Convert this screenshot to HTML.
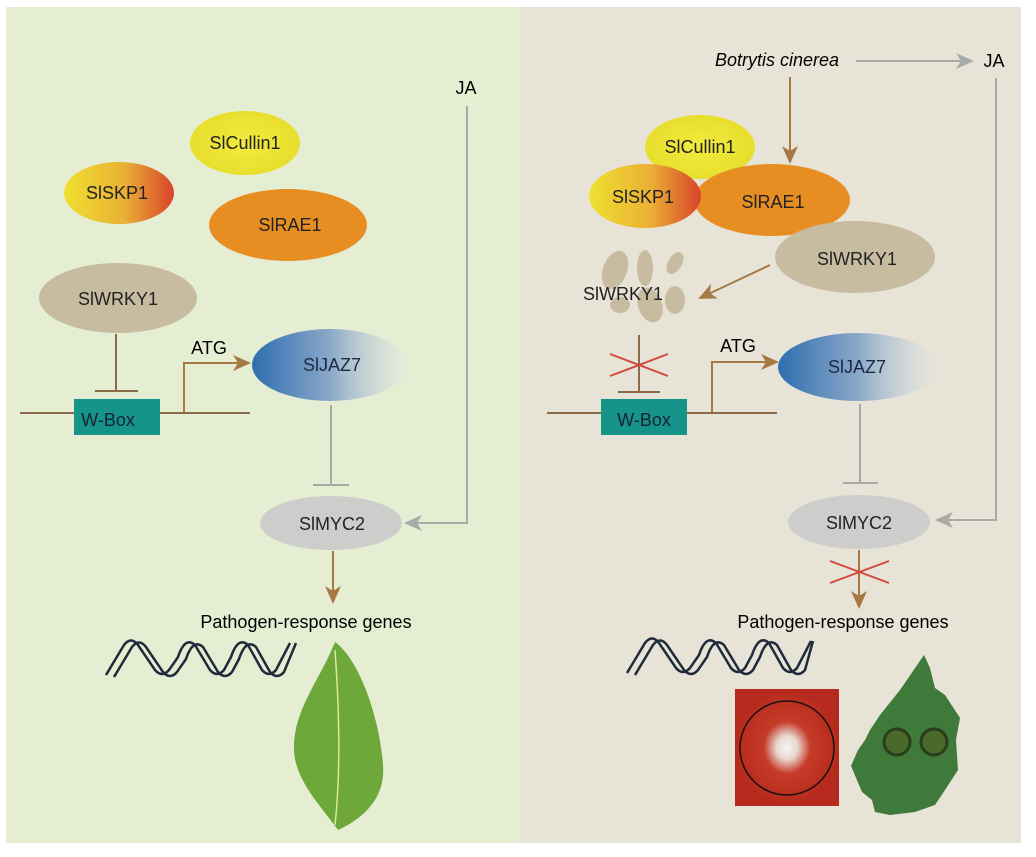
<!DOCTYPE html>
<html><head><meta charset="utf-8"><style>
html,body{margin:0;padding:0;background:#fff;}
svg{display:block;font-family:"Liberation Sans",Arial,sans-serif;}
</style></head><body>
<svg width="1036" height="857" viewBox="0 0 1036 857" xmlns="http://www.w3.org/2000/svg">
<defs>
<linearGradient id="skp" x1="0" x2="1"><stop offset="0" stop-color="#efe030"/><stop offset="0.55" stop-color="#eab035"/><stop offset="1" stop-color="#d8432a"/></linearGradient>
<linearGradient id="jaz" x1="0" x2="1"><stop offset="0" stop-color="#2e6eb0"/><stop offset="0.5" stop-color="#8aa8c8"/><stop offset="1" stop-color="#e4e8e2" stop-opacity="0.3"/></linearGradient>
<radialGradient id="cul"><stop offset="0" stop-color="#f2ec40"/><stop offset="1" stop-color="#e8de2c"/></radialGradient>
<radialGradient id="plate"><stop offset="0" stop-color="#f4f4f4"/><stop offset="0.2" stop-color="#e8d8d0"/><stop offset="0.45" stop-color="#c63a28"/><stop offset="1" stop-color="#b52a1c"/></radialGradient>
<marker id="ab" markerWidth="18" markerHeight="16" refX="16" refY="8" orient="auto" markerUnits="userSpaceOnUse"><path d="M0,0 L18,8 L0,16 L5,8z" fill="#a67843"/></marker>
<marker id="ag" markerWidth="18" markerHeight="16" refX="16" refY="8" orient="auto" markerUnits="userSpaceOnUse"><path d="M0,0 L18,8 L0,16 L5,8z" fill="#a8aaa8"/></marker>
</defs>
<rect x="6" y="7" width="514" height="836" fill="#e5eed3"/>
<rect x="520" y="7" width="501" height="836" fill="#e7e3d7"/>

<g font-size="18">
<!-- LEFT -->
<text x="466" y="94" text-anchor="middle">JA</text>
<polyline points="467,106 467,523 406,523" fill="none" stroke="#a8aaa8" stroke-width="2" marker-end="url(#ag)"/>
<ellipse cx="245" cy="143" rx="55" ry="32" fill="url(#cul)"/>
<text x="245" y="149" text-anchor="middle" fill="#222">SlCullin1</text>
<ellipse cx="119" cy="193" rx="55" ry="31" fill="url(#skp)"/>
<text x="117" y="199" text-anchor="middle" fill="#222">SlSKP1</text>
<ellipse cx="288" cy="225" rx="79" ry="36" fill="#e68e22"/>
<text x="290" y="231" text-anchor="middle" fill="#222">SlRAE1</text>
<ellipse cx="118" cy="298" rx="79" ry="35" fill="#c7bca0"/>
<text x="118" y="305" text-anchor="middle" fill="#222">SlWRKY1</text>
<line x1="116" y1="334" x2="116" y2="391" stroke="#8a6a48" stroke-width="2"/>
<line x1="95" y1="391" x2="138" y2="391" stroke="#8a6a48" stroke-width="2"/>
<line x1="20" y1="413" x2="250" y2="413" stroke="#8a6a48" stroke-width="2"/>
<rect x="74" y="399" width="86" height="36" fill="#17948a"/>
<text x="108" y="426" text-anchor="middle" fill="#123">W-Box</text>
<polyline points="184,413 184,363 249,363" fill="none" stroke="#a67843" stroke-width="2" marker-end="url(#ab)"/>
<text x="209" y="354" text-anchor="middle">ATG</text>
<ellipse cx="330" cy="365" rx="78" ry="36" fill="url(#jaz)"/>
<text x="332" y="371" text-anchor="middle" fill="#1a2a44">SlJAZ7</text>
<line x1="331" y1="405" x2="331" y2="485" stroke="#a8aaa8" stroke-width="2"/>
<line x1="313" y1="485" x2="349" y2="485" stroke="#a8aaa8" stroke-width="2"/>
<ellipse cx="331" cy="523" rx="71" ry="27" fill="#cdcecc"/>
<text x="332" y="530" text-anchor="middle" fill="#222">SlMYC2</text>
<line x1="333" y1="551" x2="333" y2="602" stroke="#a67843" stroke-width="2" marker-end="url(#ab)"/>
<text x="306" y="628" text-anchor="middle">Pathogen-response genes</text>
<g fill="none" stroke="#1f2a3a" stroke-width="2.5">
<path d="M106,675 L124,645 Q131,636 138,645 L155,670 Q162,678 169,670 L176,660 L178,657 Q185,636 195,645 L210,670 Q217,678 224,670 L231,657 Q238,636 248,645 L262,670 Q269,678 276,670 L290,643"/>
<path d="M114,677 L132,647 Q139,638 146,647 L163,672 Q170,680 177,672 L186,659 Q193,638 203,647 L218,672 Q225,680 232,672 L239,659 Q246,638 256,647 L270,672 Q277,680 284,672 L296,643"/>
</g>
<path d="M335,642 C360,660 380,720 383,765 C386,800 360,820 338,830 C320,805 295,780 294,750 C293,710 320,680 335,642z" fill="#6fa83a"/>
<path d="M335,650 C340,720 340,780 335,825" stroke="#d8eaa0" stroke-width="1.5" fill="none"/>

<!-- RIGHT -->
<text x="777" y="66" text-anchor="middle" font-style="italic">Botrytis cinerea</text>
<line x1="856" y1="61" x2="972" y2="61" stroke="#a8aaa8" stroke-width="2" marker-end="url(#ag)"/>
<text x="994" y="67" text-anchor="middle">JA</text>
<polyline points="996,78 996,520 937,520" fill="none" stroke="#a8aaa8" stroke-width="2" marker-end="url(#ag)"/>
<line x1="790" y1="77" x2="790" y2="162" stroke="#a67843" stroke-width="2" marker-end="url(#ab)"/>
<ellipse cx="700" cy="147" rx="55" ry="32" fill="url(#cul)"/>
<text x="700" y="153" text-anchor="middle" fill="#222">SlCullin1</text>
<ellipse cx="772" cy="200" rx="78" ry="36" fill="#e68e22"/>
<ellipse cx="645" cy="196" rx="56" ry="32" fill="url(#skp)"/>
<text x="643" y="203" text-anchor="middle" fill="#222">SlSKP1</text>
<text x="773" y="208" text-anchor="middle" fill="#222">SlRAE1</text>
<ellipse cx="855" cy="257" rx="80" ry="36" fill="#c7bca0"/>
<text x="857" y="265" text-anchor="middle" fill="#222">SlWRKY1</text>
<g fill="#c7bca0">
<ellipse cx="615" cy="270" rx="12" ry="20" transform="rotate(20 615 270)"/>
<ellipse cx="645" cy="268" rx="8" ry="18"/>
<ellipse cx="675" cy="263" rx="7" ry="12" transform="rotate(30 675 263)"/>
<ellipse cx="650" cy="305" rx="12" ry="18" transform="rotate(-20 650 305)"/>
<ellipse cx="675" cy="300" rx="10" ry="14"/>
<ellipse cx="620" cy="305" rx="10" ry="8"/>
</g>
<text x="623" y="300" text-anchor="middle" fill="#222">SlWRKY1</text>
<line x1="770" y1="265" x2="700" y2="298" stroke="#a67843" stroke-width="2" marker-end="url(#ab)"/>
<line x1="639" y1="335" x2="639" y2="392" stroke="#8a6a48" stroke-width="2"/>
<line x1="618" y1="392" x2="660" y2="392" stroke="#8a6a48" stroke-width="2"/>
<line x1="610" y1="354" x2="668" y2="376" stroke="#d0493a" stroke-width="2"/>
<line x1="610" y1="376" x2="668" y2="354" stroke="#d0493a" stroke-width="2"/>
<line x1="547" y1="413" x2="777" y2="413" stroke="#8a6a48" stroke-width="2"/>
<rect x="601" y="399" width="86" height="36" fill="#17948a"/>
<text x="644" y="426" text-anchor="middle" fill="#123">W-Box</text>
<polyline points="712,413 712,362 777,362" fill="none" stroke="#a67843" stroke-width="2" marker-end="url(#ab)"/>
<text x="738" y="352" text-anchor="middle">ATG</text>
<ellipse cx="858" cy="367" rx="80" ry="34" fill="url(#jaz)"/>
<text x="857" y="373" text-anchor="middle" fill="#1a2a44">SlJAZ7</text>
<line x1="860" y1="404" x2="860" y2="483" stroke="#a8aaa8" stroke-width="2"/>
<line x1="843" y1="483" x2="878" y2="483" stroke="#a8aaa8" stroke-width="2"/>
<ellipse cx="859" cy="522" rx="71" ry="27" fill="#cdcecc"/>
<text x="859" y="529" text-anchor="middle" fill="#222">SlMYC2</text>
<line x1="859" y1="550" x2="859" y2="607" stroke="#a67843" stroke-width="2" marker-end="url(#ab)"/>
<line x1="830" y1="561" x2="889" y2="583" stroke="#d0493a" stroke-width="2"/>
<line x1="830" y1="583" x2="889" y2="561" stroke="#d0493a" stroke-width="2"/>
<text x="843" y="628" text-anchor="middle">Pathogen-response genes</text>
<g fill="none" stroke="#1f2a3a" stroke-width="2.5">
<path d="M627,673 L645,643 Q652,634 659,643 L676,668 Q683,676 690,668 L699,655 Q706,634 716,643 L731,668 Q738,676 745,668 L752,655 Q759,634 769,643 L783,668 Q790,676 797,668 L811,641"/>
<path d="M635,675 L653,645 Q660,636 667,645 L684,670 Q691,678 698,670 L707,657 Q714,636 724,645 L739,670 Q746,678 753,670 L760,657 Q767,636 777,645 L791,670 Q798,678 805,670 L813,641"/>
</g>
<rect x="735" y="689" width="104" height="117" fill="url(#plate)"/>
<circle cx="787" cy="748" r="47" fill="none" stroke="#1a1010" stroke-width="1.5"/>
<path d="M924,655 L930,668 L935,688 L945,695 L960,718 L956,740 L958,770 L945,790 L935,805 L915,812 L890,815 L875,812 L872,800 L862,792 L851,766 L858,750 L865,740 L870,730 L880,715 L900,690z" fill="#3f7a3a"/>
<circle cx="897" cy="742" r="13" fill="#4a6a2c" stroke="#2a3d1e" stroke-width="3"/>
<circle cx="934" cy="742" r="13" fill="#4a6a2c" stroke="#2a3d1e" stroke-width="3"/>
</g>
</svg>
</body></html>
